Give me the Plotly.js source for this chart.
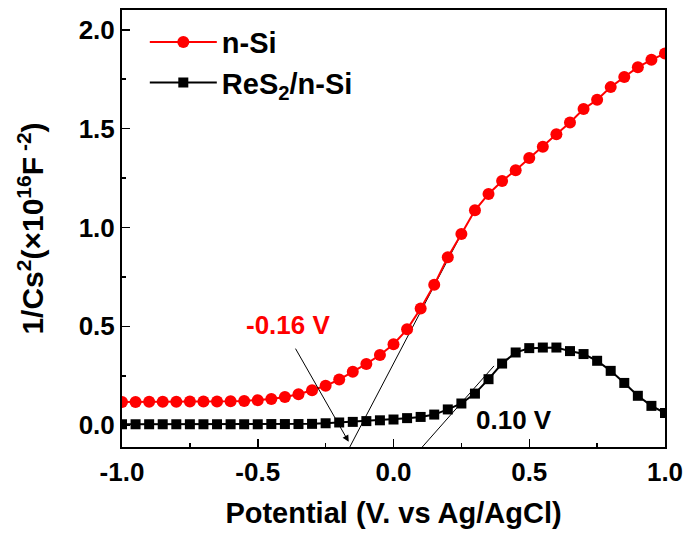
<!DOCTYPE html>
<html>
<head>
<meta charset="utf-8">
<script src="https://cdn.plot.ly/plotly-3.0.1.min.js"></script>
<style>html,body{margin:0;padding:0;background:#fff;}#chart{width:688px;height:538px;}</style>
</head>
<body>
<div id="chart"></div>
<script>
// Potential (V vs Ag/AgCl), step 0.05 V
const potential = [-1.0,-0.95,-0.9,-0.85,-0.8,-0.75,-0.7,-0.65,-0.6,-0.55,-0.5,-0.45,-0.4,-0.35,-0.3,-0.25,-0.2,-0.15,-0.1,-0.05,0.0,0.05,0.1,0.15,0.2,0.25,0.3,0.35,0.4,0.45,0.5,0.55,0.6,0.65,0.7,0.75,0.8,0.85,0.9,0.95,1.0];
const nSi = [0.118,0.118,0.119,0.119,0.119,0.120,0.120,0.120,0.121,0.123,0.127,0.133,0.143,0.157,0.177,0.200,0.231,0.270,0.310,0.355,0.410,0.485,0.590,0.710,0.850,0.967,1.087,1.170,1.235,1.290,1.352,1.409,1.472,1.531,1.599,1.646,1.710,1.761,1.811,1.848,1.880];
const reS2nSi = [0.005,0.005,0.005,0.005,0.005,0.005,0.005,0.005,0.005,0.005,0.005,0.006,0.006,0.006,0.007,0.010,0.014,0.017,0.021,0.025,0.029,0.036,0.042,0.054,0.080,0.110,0.160,0.233,0.312,0.368,0.390,0.393,0.393,0.375,0.360,0.326,0.275,0.214,0.149,0.098,0.062];
// tangent (extrapolation) lines
const tangentRedX = [-0.161, 0.249];
const tangentRedY = [-0.11, 0.965];
const tangentBlackX = [0.106, 0.37];
const tangentBlackY = [-0.11, 0.30];
const seriesNames = ['n-Si', 'ReS<sub>2</sub>/n-Si'];
const xTicks = [-1.0, -0.5, 0.0, 0.5, 1.0];
const xTickText = ['-1.0', '-0.5', '0.0', '0.5', '1.0'];
const yTicks = [0.0, 0.5, 1.0, 1.5, 2.0];
const yTickText = ['0.0', '0.5', '1.0', '1.5', '2.0'];

const FONT = 'Liberation Sans, Arial, Helvetica, sans-serif';

const traces = [
  {x: tangentRedX, y: tangentRedY, mode: 'lines', line: {color: '#000', width: 1}, showlegend: false, hoverinfo: 'skip'},
  {x: tangentBlackX, y: tangentBlackY, mode: 'lines', line: {color: '#000', width: 1}, showlegend: false, hoverinfo: 'skip'},
  {x: potential, y: nSi, name: seriesNames[0], mode: 'lines+markers',
   line: {color: '#ff0000', width: 2}, marker: {symbol: 'circle', size: 12, color: '#ff0000'}},
  {x: potential, y: reS2nSi, name: seriesNames[1], mode: 'lines+markers',
   line: {color: '#000000', width: 2}, marker: {symbol: 'square', size: 10, color: '#000000'}}
];

const layout = {
  width: 688, height: 538,
  margin: {l: 122, r: 23, t: 10, b: 91},
  paper_bgcolor: '#fff', plot_bgcolor: '#fff',
  font: {family: FONT, color: '#000'},
  showlegend: true,
  legend: {x: 0.042, y: 0.985, xanchor: 'left', yanchor: 'top', bgcolor: 'rgba(0,0,0,0)',
           font: {family: FONT, size: 29, color: '#000', weight: 'bold'}, itemwidth: 67, tracegroupgap: 0},
  xaxis: {
    range: [-1.0, 1.0], tickvals: xTicks, ticktext: xTickText,
    ticks: 'inside', ticklen: 8, tickwidth: 1.5, tickcolor: '#000',
    minor: {dtick: 0.25, tick0: 0, ticks: 'inside', ticklen: 4, tickwidth: 1.5, tickcolor: '#000'},
    showline: true, linecolor: '#000', linewidth: 2, mirror: true,
    showgrid: false, zeroline: false, ticklabelstandoff: 1,
    tickfont: {family: FONT, size: 26, color: '#000', weight: 'bold'},
    title: {text: 'Potential (V. vs Ag/AgCl)', font: {family: FONT, size: 29, color: '#000', weight: 'bold'}, standoff: 16}
  },
  yaxis: {
    range: [-0.11, 2.10], tickvals: yTicks, ticktext: yTickText,
    ticks: 'inside', ticklen: 8, tickwidth: 1.5, tickcolor: '#000',
    minor: {dtick: 0.25, tick0: 0, ticks: 'inside', ticklen: 4, tickwidth: 1.5, tickcolor: '#000'},
    showline: true, linecolor: '#000', linewidth: 2, mirror: true,
    showgrid: false, zeroline: false,
    tickfont: {family: FONT, size: 26, color: '#000', weight: 'bold'},
    title: {text: '1/Cs<sup>2</sup>(×10<sup>16</sup>F<sup> -2</sup>)', font: {family: FONT, size: 30, color: '#000', weight: 'bold'}, standoff: 26}
  },
  annotations: [
    {x: -0.165, y: -0.084, ax: -0.364, ay: 0.395, axref: 'x', ayref: 'y', xref: 'x', yref: 'y',
     text: '', showarrow: true, arrowhead: 2, arrowsize: 1.3, arrowwidth: 1, arrowcolor: '#000', standoff: 0},
    {x: -0.387, y: 0.505, xref: 'x', yref: 'y', text: '-0.16 V', showarrow: false,
     font: {family: FONT, size: 26, color: '#ff0000', weight: 'bold'}},
    {x: 0.442, y: 0.025, xref: 'x', yref: 'y', text: '0.10 V', showarrow: false,
     font: {family: FONT, size: 26, color: '#000', weight: 'bold'}}
  ]
};

Plotly.newPlot('chart', traces, layout, {displayModeBar: false, staticPlot: true});
</script>
</body>
</html>
